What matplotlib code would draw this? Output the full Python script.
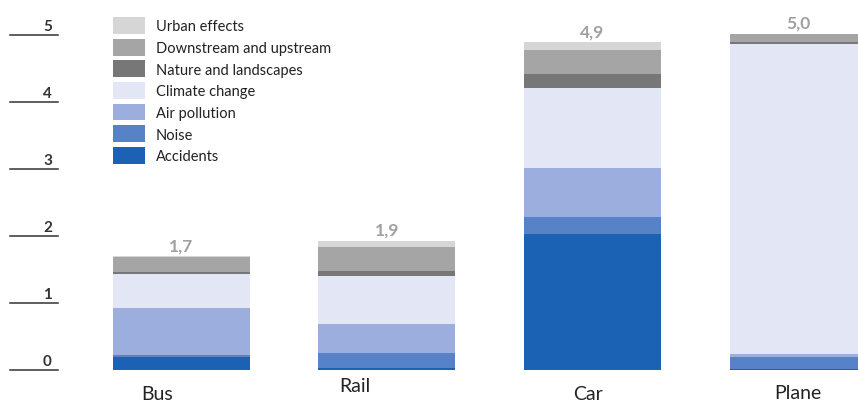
import numpy as np
import matplotlib.pyplot as plt

plt.rcParams['font.family'] = ['Lato', 'DejaVu Sans']

categories = ['Bus', 'Rail', 'Car', 'Plane']
total_labels = ['1,7', '1,9', '4,9', '5,0']

# stacked from bottom to top
accidents = [0.20, 0.03, 2.03, 0.02]
noise = [0.02, 0.23, 0.26, 0.17]
air_pollution = [0.71, 0.43, 0.72, 0.05]
climate_change = [0.50, 0.72, 1.20, 4.63]
nature = [0.03, 0.07, 0.21, 0.03]
downstream = [0.22, 0.35, 0.36, 0.12]
urban = [0.02, 0.10, 0.11, 0.0]

series = [
    ('Accidents', accidents, '#1b61b4'),
    ('Noise', noise, '#5882c8'),
    ('Air pollution', air_pollution, '#9caede'),
    ('Climate change', climate_change, '#e3e6f5'),
    ('Nature and landscapes', nature, '#777777'),
    ('Downstream and upstream', downstream, '#a5a5a5'),
    ('Urban effects', urban, '#d6d6d6'),
]

fig = plt.figure(figsize=(8.58, 4.06), dpi=100)
ax = fig.add_axes([0, 0, 1, 1])

x = np.arange(len(categories))
bottom = np.zeros(len(categories))
handles = []
for name, vals, col in series:
    b = ax.bar(x, vals, width=0.666, bottom=bottom, color=col, linewidth=0, label=name)
    handles.append(b)
    bottom += np.array(vals)

for xi, tot, lab in zip(x, bottom, total_labels):
    ax.text(xi, tot + 0.09, lab, ha='center', va='baseline', fontsize=12.5,
            color='#a0a0a0', fontweight='bold')

# category labels under the bars
xoff = [-0.117, -0.153, -0.02, 0.0]
ypos = [0.014, 0.035, 0.014, 0.018]
for xi, lab, dx, yy in zip(x, categories, xoff, ypos):
    ax.text(xi + dx, yy, lab, ha='center', va='baseline', fontsize=14,
            color='#222222', transform=ax.get_xaxis_transform())

# underlined y tick labels
yt = ax.get_yaxis_transform()
for v in range(6):
    ax.plot([0.0117, 0.0676], [v, v], color='#333333', lw=1.1, transform=yt, clip_on=False)
    ax.text(0.0606, v + 0.07, str(v), ha='right', va='baseline', fontsize=11,
            color='#333333', fontweight='bold', transform=yt)

ax.set_xlim(-0.88, 3.291)
ax.set_ylim(-0.522, 5.537)
ax.axis('off')

leg = ax.legend(handles[::-1], [s[0] for s in series][::-1],
                loc='upper left', bbox_to_anchor=(113 / 858, 1 - 18 / 406),
                bbox_transform=fig.transFigure, frameon=False,
                fontsize=10.5, handlelength=2.2, handleheight=1.4,
                handletextpad=0.75, labelspacing=0.33, borderpad=0, borderaxespad=0)
for t in leg.get_texts():
    t.set_color('#222222')

fig.savefig('out.png', dpi=100)
